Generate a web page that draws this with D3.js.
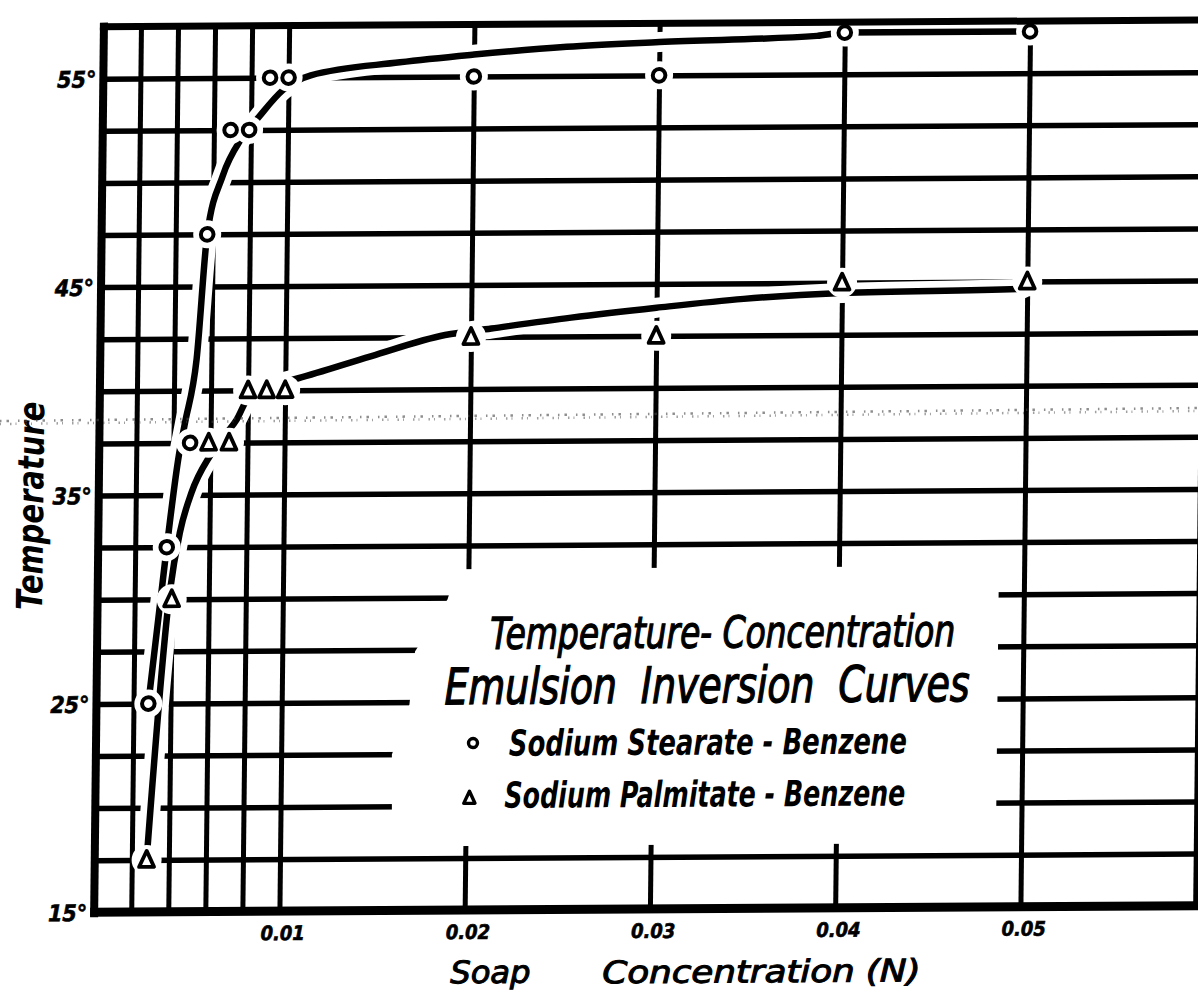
<!DOCTYPE html>
<html><head><meta charset="utf-8">
<script src="https://cdn.jsdelivr.net/npm/d3@7"></script>
<style>
html,body{margin:0;padding:0;background:#fff;}
svg{display:block;}
text{font-family:"Liberation Sans Narrow","DejaVu Sans Condensed","Liberation Sans","DejaVu Sans",sans-serif;font-style:italic;fill:#000;}
</style></head><body>
<svg id="chart" width="1198" height="992"></svg>
<script>
// ---------------- data ----------------
const stearateConc = [0.0028,0.0037,0.0049,0.0057,0.0069,0.0079,0.009,0.01,0.02,0.03,0.04,0.05];
const stearateTemp = [25,32.5,37.5,47.5,52.5,52.5,55,55,55,55,57,57];
const palmitateConc = [0.0028,0.004,0.0059,0.007,0.008,0.009,0.01,0.02,0.03,0.04,0.05];
const palmitateTemp = [17.5,30,37.5,37.5,40,40,40,42.5,42.5,45,45];
// hand-drawn smoothing curves
const stearateCurveConc = [0.0028,0.0037,0.0043,0.0046,0.0052,0.0057,0.0065,0.0075,0.0084,0.0097,0.0112,0.016,0.02,0.025,0.03,0.0385,0.04,0.05];
const stearateCurveTemp = [25,32.5,36.9,38.4,41.5,47.5,50.3,52.1,53.1,54.4,55.1,55.7,56.05,56.4,56.6,56.85,57,57];
const palmitateCurveConc = [0.0028,0.0039,0.0044,0.005,0.006,0.0068,0.0074,0.0079,0.0085,0.0095,0.0107,0.0146,0.0186,0.0211,0.0254,0.03,0.0347,0.04,0.0497,0.05];
const palmitateCurveTemp = [17.5,30.4,33.2,35.1,36.9,37.9,38.6,39.5,40.1,40.3,40.57,41.6,42.6,42.9,43.4,43.85,44.25,44.5,44.65,45];
const xTickValues = [0.01,0.02,0.03,0.04,0.05];
const xTickLabels = ["0.01","0.02","0.03","0.04","0.05"];
const yTickValues = [15,25,35,45,55];
const yTickLabels = ["15°","25°","35°","45°","55°"];
const xGridValues = [0.002,0.004,0.006,0.008,0.01,0.02,0.03,0.04,0.05];
const yGridValues = [17.5,20,22.5,25,27.5,30,32.5,35,37.5,40,42.5,45,47.5,50,52.5,55];
const legendTitle = ["Temperature- Concentration","Emulsion  Inversion  Curves"];
const seriesNames = ["Sodium Stearate - Benzene","Sodium Palmitate - Benzene"];
const xTitleWords = ["Soap","Concentration (N)"];
const yTitle = "Temperature";

// ---------------- layout ----------------
const svg = d3.select("#chart");
const X0 = 99, XR = 1201, YB = 909;
const x = d3.scaleLinear().domain([0,0.06]).range([99,1210.5]);
const y = d3.scaleLinear().domain([15,57.5]).range([909,909-42.5*20.84]);
const YT = y(57.5);
const k1 = -0.011, k2 = -0.006; // slight skew of the scanned sheet
const g = svg.append("g").attr("transform",`matrix(1,${k2},${k1},1,${-k1*470},${-k2*650})`);

// scan speckle band
[[0,"1.5 5 2.5 9",0.6],[3,"1 9 1.5 4",0.5]].forEach(([o,da,op])=>{
  svg.append("line").attr("x1",0).attr("y1",421+o).attr("x2",1198).attr("y2",408+o)
    .attr("stroke","#444").attr("stroke-width",2.5).attr("stroke-dasharray",da).attr("opacity",op);
});

// grid lines via axes
const hGrid = g.append("g").attr("transform",`translate(${X0},0)`)
  .call(d3.axisLeft(y).tickValues(yGridValues).tickSize(-(XR-X0)).tickFormat(""));
hGrid.select(".domain").remove();
hGrid.selectAll("line").attr("stroke","#000").attr("stroke-width",5.5);
const vGrid = g.append("g").attr("transform",`translate(0,${YB})`)
  .call(d3.axisBottom(x).tickValues(xGridValues).tickSize(-(YB-YT)).tickFormat(""));
vGrid.select(".domain").remove();
vGrid.selectAll("line").attr("stroke","#000").attr("stroke-width",5);

// legend box (white paper pasted over grid)
g.append("polygon")
  .attr("points",[[458,568],[1000,568],[1000,845],[396,845],[395,753],[412,703],[417,650],[449,598]].map(p=>p.join(",")).join(" "))
  .attr("fill","#fff");

// curves
const line = d3.line().x(d=>x(d[0])).y(d=>y(d[1])).curve(d3.curveMonotoneX);
const sCurve = stearateCurveConc.map((c,i)=>[c,stearateCurveTemp[i]]);
const pCurve = palmitateCurveConc.map((c,i)=>[c,palmitateCurveTemp[i]]);
[sCurve,pCurve].forEach(c=>g.append("path").attr("d",line(c)).attr("fill","none")
  .attr("stroke","#fff").attr("stroke-width",20).attr("stroke-linecap","round"));
[sCurve,pCurve].forEach(c=>g.append("path").attr("d",line(c)).attr("fill","none")
  .attr("stroke","#000").attr("stroke-width",6.5).attr("stroke-linecap","round"));

// markers
const sPts = stearateConc.map((c,i)=>[c,stearateTemp[i]]);
const pPts = palmitateConc.map((c,i)=>[c,palmitateTemp[i]]);
const tri = s=>`M0,${-9*s}L${7.5*s},${7*s}L${-7.5*s},${7*s}Z`;
g.selectAll(".sh").data(sPts).join("circle").attr("cx",d=>x(d[0])).attr("cy",d=>y(d[1])).attr("r",14).attr("fill","#fff");
g.selectAll(".ph").data(pPts).join("circle").attr("cx",d=>x(d[0])).attr("cy",d=>y(d[1])).attr("r",15).attr("fill","#fff");
g.selectAll(".sm").data(sPts).join("circle").attr("cx",d=>x(d[0])).attr("cy",d=>y(d[1])).attr("r",6.3)
  .attr("fill","#fff").attr("stroke","#000").attr("stroke-width",4);
g.selectAll(".pm").data(pPts).join("path").attr("d",tri(1))
  .attr("transform",d=>`translate(${x(d[0])},${y(d[1])})`)
  .attr("fill","#fff").attr("stroke","#000").attr("stroke-width",3.8).attr("stroke-linejoin","round");

// frame
g.append("line").attr("x1",X0).attr("x2",X0).attr("y1",YT-4).attr("y2",YB+5).attr("stroke","#000").attr("stroke-width",8);
g.append("line").attr("x1",X0-4).attr("x2",XR+4).attr("y1",YB).attr("y2",YB).attr("stroke","#000").attr("stroke-width",9);
g.append("line").attr("x1",X0-4).attr("x2",XR+4).attr("y1",YT).attr("y2",YT).attr("stroke","#000").attr("stroke-width",7);
g.append("line").attr("x1",XR).attr("x2",XR).attr("y1",YT).attr("y2",YB).attr("stroke","#000").attr("stroke-width",6);

// tick labels via axes
const xAx = g.append("g").attr("transform",`translate(0,${YB})`)
  .call(d3.axisBottom(x).tickValues(xTickValues).tickSize(0).tickFormat((d,i)=>xTickLabels[i]));
xAx.select(".domain").remove();
xAx.selectAll("text").attr("y",29).attr("dy",0).attr("font-size",20).attr("font-weight","bold")
  .attr("font-family",null).attr("text-anchor","middle").attr("dx",3)
  .attr("stroke","#000").attr("stroke-width",0.6);
const yAx = g.append("g").attr("transform",`translate(${X0},0)`)
  .call(d3.axisLeft(y).tickValues(yTickValues).tickSize(0).tickFormat((d,i)=>yTickLabels[i]));
yAx.select(".domain").remove();
yAx.selectAll("text").attr("x",-7).attr("dy","0.36em").attr("font-size",23).attr("font-weight","bold")
  .attr("font-family",null).attr("stroke","#000").attr("stroke-width",0.6);

// axis titles
g.append("text").attr("x",456).attr("y",982).attr("font-size",31).attr("textLength",80)
  .attr("lengthAdjust","spacingAndGlyphs").attr("stroke","#000").attr("stroke-width",1).text(xTitleWords[0]);
g.append("text").attr("x",608).attr("y",983).attr("font-size",31).attr("textLength",318)
  .attr("lengthAdjust","spacingAndGlyphs").attr("stroke","#000").attr("stroke-width",1).text(xTitleWords[1]);
g.append("text").attr("transform","translate(43.5,502) rotate(-90)").attr("text-anchor","middle")
  .attr("font-size",36).attr("font-weight","bold").attr("textLength",208)
  .attr("lengthAdjust","spacingAndGlyphs").text(yTitle);

// legend
g.append("text").attr("x",492).attr("y",648).attr("font-size",44).attr("textLength",465)
  .attr("lengthAdjust","spacingAndGlyphs").style("white-space","pre")
  .attr("stroke","#000").attr("stroke-width",1.2).text(legendTitle[0]);
g.append("text").attr("x",447).attr("y",703).attr("font-size",50).attr("textLength",525)
  .attr("lengthAdjust","spacingAndGlyphs").style("white-space","pre")
  .attr("stroke","#000").attr("stroke-width",1.3).text(legendTitle[1]);
g.append("circle").attr("cx",476).attr("cy",742).attr("r",4.5).attr("fill","#fff").attr("stroke","#000").attr("stroke-width",3.4);
g.append("path").attr("d",tri(0.75)).attr("transform","translate(473,797)").attr("fill","#fff")
  .attr("stroke","#000").attr("stroke-width",3.4).attr("stroke-linejoin","round");
g.append("text").attr("x",512).attr("y",755).attr("font-size",36).attr("font-weight","bold")
  .attr("textLength",398).attr("lengthAdjust","spacingAndGlyphs").text(seriesNames[0]);
g.append("text").attr("x",508).attr("y",807).attr("font-size",36).attr("font-weight","bold")
  .attr("textLength",401).attr("lengthAdjust","spacingAndGlyphs").text(seriesNames[1]);
</script>
</body></html>
